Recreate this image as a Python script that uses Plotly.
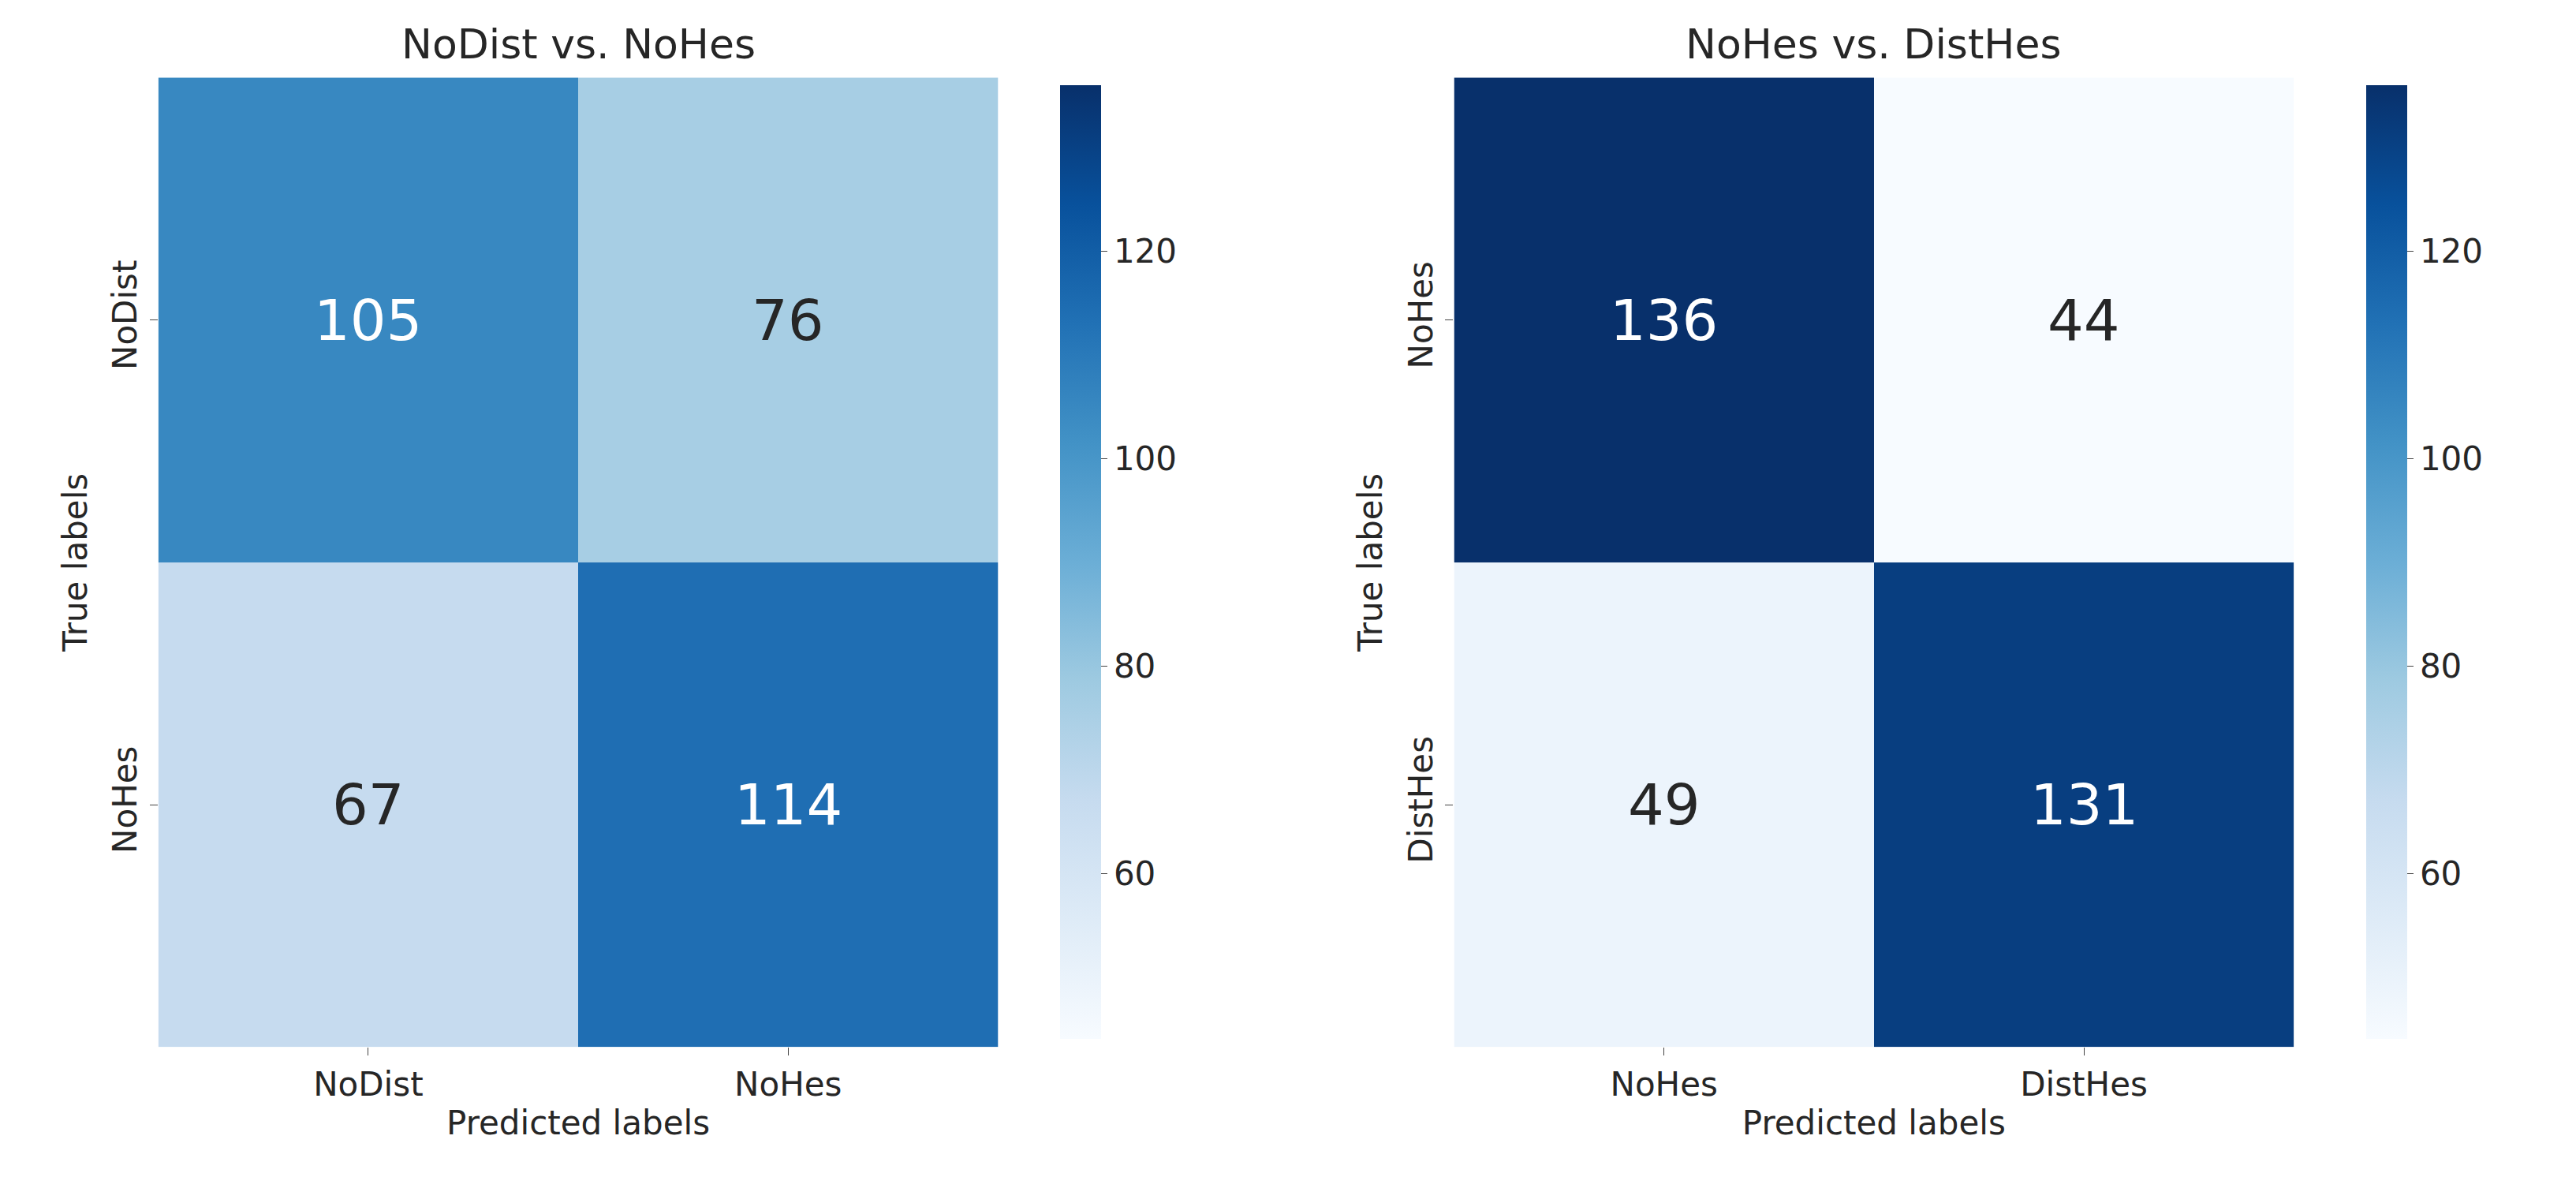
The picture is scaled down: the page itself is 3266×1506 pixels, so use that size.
import plotly.graph_objects as go

# confusion matrices
labels_left = ["NoDist", "NoHes"]
cm_left = [[105, 76], [67, 114]]
labels_right = ["NoHes", "DistHes"]
cm_right = [[136, 44], [49, 131]]
titles = ["NoDist vs. NoHes", "NoHes vs. DistHes"]
cbar_ticks = [60, 80, 100, 120]
vmin, vmax = 44, 136

fig = go.Figure()
panels = [
    (labels_left, cm_left, "x", "y", [0.059, 0.385], 0.406),
    (labels_right, cm_right, "x2", "y2", [0.562, 0.888], 0.913),
]
font = "DejaVu Sans"
tick_sz = 42
for i, (labs, cm, xa, ya, dom, cbx) in enumerate(panels):
    fig.add_trace(go.Heatmap(
        z=cm, x=labs, y=labs, xaxis=xa, yaxis=ya,
        colorscale="Blues", zmin=vmin, zmax=vmax, xgap=0, ygap=0,
        colorbar=dict(x=cbx, xanchor="left", y=0.532, len=0.816, thickness=52,
                      outlinewidth=0, tickvals=cbar_ticks, ticks="outside",
                      ticklen=8, tickfont=dict(size=tick_sz, family=font, color="#262626")),
    ))
    for r, row in enumerate(cm):
        for c, v in enumerate(row):
            frac = (v - vmin) / (vmax - vmin)
            fig.add_annotation(x=labs[c], y=labs[r], xref=xa, yref=ya, text=str(v),
                               showarrow=False,
                               font=dict(size=72, family=font,
                                         color="white" if frac > 0.55 else "#262626"))
    sfx = "" if i == 0 else "2"
    fig.layout["xaxis" + sfx] = dict(domain=dom, anchor=ya, ticks="outside", ticklen=10,
                                    tickfont=dict(size=tick_sz, family=font, color="#262626"),
                                    title=dict(text="Predicted labels", standoff=10,
                                               font=dict(size=tick_sz, family=font, color="#262626")),
                                    showgrid=False, zeroline=False)
    fig.layout["yaxis" + sfx] = dict(domain=[0.124, 0.940], anchor=xa, autorange="reversed",
                                    ticks="outside", ticklen=10, tickangle=-90,
                                    tickfont=dict(size=tick_sz, family=font, color="#262626"),
                                    title=dict(text="True labels", standoff=10,
                                               font=dict(size=tick_sz, family=font, color="#262626")),
                                    showgrid=False, zeroline=False)
    fig.add_annotation(text=titles[i], x=(dom[0] + dom[1]) / 2, y=0.947, xref="paper", yref="paper",
                       xanchor="center", yanchor="bottom", showarrow=False,
                       font=dict(size=52, family=font, color="#262626"))

fig.update_layout(width=3266, height=1506, plot_bgcolor="white", paper_bgcolor="white",
                  margin=dict(l=0, r=0, t=0, b=0))
fig.write_html("out.html")
